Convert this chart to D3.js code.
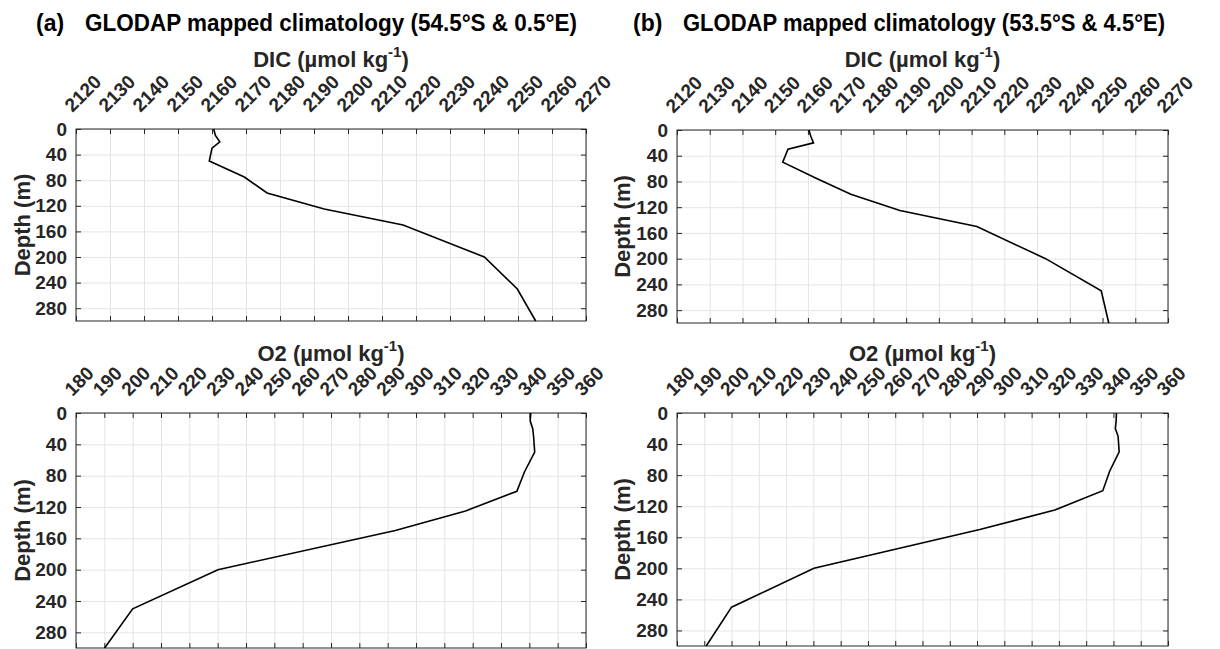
<!DOCTYPE html>
<html>
<head>
<meta charset="utf-8">
<script src="https://cdn.jsdelivr.net/npm/d3@7"></script>
<style>
  body { margin: 0; background: #fff; }
  svg { font-family: "Liberation Sans", Arial, sans-serif; }
  .grid line { stroke: #e4e4e4; stroke-width: 1; }
  .grid path { display: none; }
  .ax path { display: none; }
  .ax line { stroke: #262626; stroke-width: 1; }
  .ax text { fill: #262626; font-weight: bold; font-size: 19px; }
</style>
</head>
<body>
<script>
// depths of the GLODAP standard levels (m)
var depths = [0, 10, 20, 30, 50, 75, 100, 125, 150, 200, 250, 300];

var dicA = [2160.5, 2161, 2162.3, 2160, 2159.2, 2169.5, 2176.2, 2193, 2216.2, 2240.1, 2249.8, 2255.2];
var dicB = [2160.3, 2160.9, 2161.7, 2153.9, 2152.3, 2162.5, 2173.1, 2188.1, 2211.6, 2232.6, 2249.6, 2251.9];
var o2A = [340.5, 340.3, 341.2, 341.5, 341.9, 338.3, 335.6, 317.5, 292.7, 230.1, 200, 190.1];
var o2B = [341.1, 341, 340.7, 341.7, 342.1, 338.6, 336.1, 318.5, 291, 230.2, 200, 190.7];

var dicTicks = [2120, 2130, 2140, 2150, 2160, 2170, 2180, 2190, 2200, 2210, 2220, 2230, 2240, 2250, 2260, 2270];
var o2Ticks = [180, 190, 200, 210, 220, 230, 240, 250, 260, 270, 280, 290, 300, 310, 320, 330, 340, 350, 360];
var depthTicks = [0, 40, 80, 120, 160, 200, 240, 280];

var titles = ["GLODAP mapped climatology (54.5\u00B0S & 0.5\u00B0E)", "GLODAP mapped climatology (53.5\u00B0S & 4.5\u00B0E)"];

var svg = d3.select("body").append("svg")
    .attr("width", 1220)
    .attr("height", 649);

// header of each column
function header(tag, x, tx, tw, txt) {
    svg.append("text")
        .attr("x", x).attr("y", 31)
        .attr("font-size", 23).attr("font-weight", "bold").attr("fill", "#000")
        .text(tag);
    svg.append("text")
        .attr("x", tx).attr("y", 31)
        .attr("font-size", 23).attr("font-weight", "bold").attr("fill", "#000")
        .attr("textLength", tw).attr("lengthAdjust", "spacingAndGlyphs")
        .text(txt);
}
header("(a)", 36, 85, 492, titles[0]);
header("(b)", 633, 683, 482, titles[1]);

function panel(p) {
    var x = d3.scaleLinear().domain(p.xdom).range([p.x0, p.x1]);
    var y = d3.scaleLinear().domain([0, 300]).range([p.y0, p.y1]);
    var w = p.x1 - p.x0, h = p.y1 - p.y0;
    var g = svg.append("g");

    // grid
    g.append("g").attr("class", "grid")
        .attr("transform", "translate(0," + p.y1 + ")")
        .call(d3.axisBottom(x).tickValues(p.ticks).tickSize(-h).tickFormat(""));
    g.append("g").attr("class", "grid")
        .attr("transform", "translate(" + p.x0 + ",0)")
        .call(d3.axisLeft(y).tickValues(depthTicks).tickSize(-w).tickFormat(""));

    // top axis with rotated labels
    var top = g.append("g").attr("class", "ax")
        .attr("transform", "translate(0," + p.y0 + ")")
        .call(d3.axisTop(x).tickValues(p.ticks).tickSizeInner(-5).tickSizeOuter(0).tickFormat(d3.format("d")));
    top.selectAll("text")
        .attr("x", 0).attr("y", 0).attr("dy", 0)
        .attr("text-anchor", "start")
        .attr("transform", "translate(-4,-16) rotate(-45)");

    g.append("g").attr("class", "ax")
        .attr("transform", "translate(0," + p.y1 + ")")
        .call(d3.axisBottom(x).tickValues(p.ticks).tickSizeInner(-5).tickSizeOuter(0).tickFormat(""));

    g.append("g").attr("class", "ax")
        .attr("transform", "translate(" + p.x0 + ",0)")
        .call(d3.axisLeft(y).tickValues(depthTicks).tickSizeInner(-5).tickSizeOuter(0).tickPadding(9));
    g.append("g").attr("class", "ax")
        .attr("transform", "translate(" + p.x1 + ",0)")
        .call(d3.axisRight(y).tickValues(depthTicks).tickSizeInner(-5).tickSizeOuter(0).tickFormat(""));

    g.append("rect")
        .attr("x", p.x0).attr("y", p.y0).attr("width", w).attr("height", h)
        .attr("fill", "none").attr("stroke", "#262626").attr("stroke-width", 1);

    // profile
    var line = d3.line()
        .x(function(d) { return x(d[0]); })
        .y(function(d) { return y(d[1]); });
    g.append("path")
        .datum(p.vals.map(function(v, i) { return [v, depths[i]]; }))
        .attr("d", line)
        .attr("fill", "none").attr("stroke", "#000").attr("stroke-width", 1.6);

    // x title with superscript
    var t = g.append("text")
        .attr("x", (p.x0 + p.x1) / 2).attr("y", p.ty)
        .attr("text-anchor", "middle")
        .attr("font-size", 22).attr("font-weight", "bold").attr("fill", "#262626");
    t.append("tspan").text(p.name + " (\u00B5mol kg");
    t.append("tspan").attr("font-size", 15).attr("dy", -10).text("-1");
    t.append("tspan").attr("dy", 10).text(")");

    // y title
    g.append("text")
        .attr("transform", "translate(" + p.yx + "," + ((p.y0 + p.y1) / 2) + ") rotate(-90)")
        .attr("text-anchor", "middle")
        .attr("font-size", 22).attr("font-weight", "bold").attr("fill", "#262626")
        .text("Depth (m)");
}

panel({ name: "DIC", vals: dicA, xdom: [2120, 2270], ticks: dicTicks, x0: 76, x1: 586, y0: 129, y1: 321, ty: 67, yx: 30 });
panel({ name: "DIC", vals: dicB, xdom: [2120, 2270], ticks: dicTicks, x0: 677, x1: 1168, y0: 130, y1: 323, ty: 67, yx: 630 });
panel({ name: "O2", vals: o2A, xdom: [180, 360], ticks: o2Ticks, x0: 76, x1: 586, y0: 413, y1: 648, ty: 361, yx: 30 });
panel({ name: "O2", vals: o2B, xdom: [180, 360], ticks: o2Ticks, x0: 677, x1: 1168, y0: 413, y1: 646, ty: 361, yx: 630 });
</script>
</body>
</html>
